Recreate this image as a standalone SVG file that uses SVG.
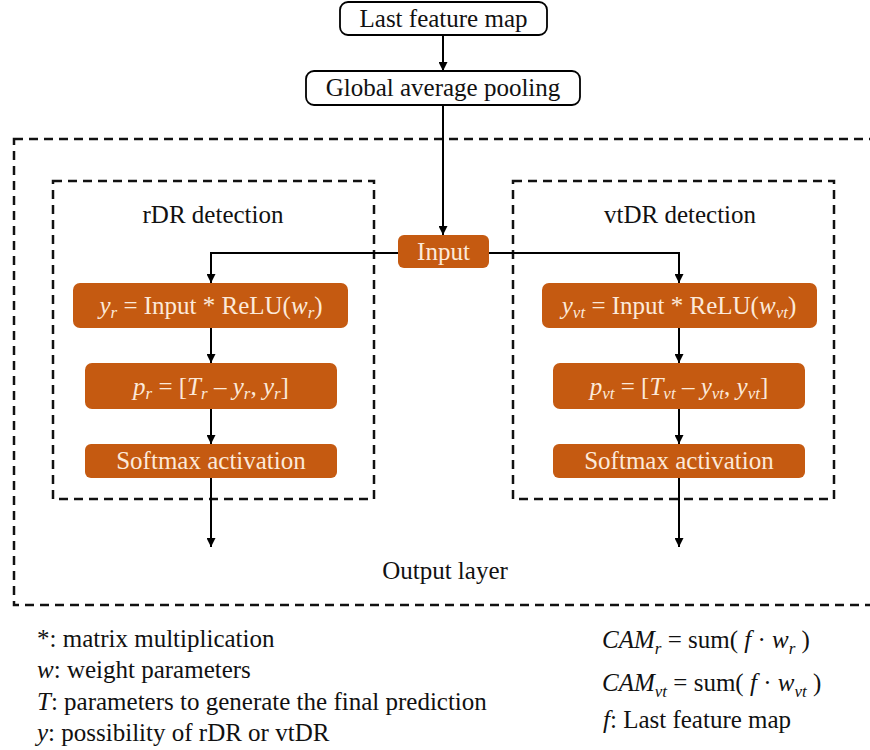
<svg xmlns="http://www.w3.org/2000/svg" width="870" height="750" viewBox="0 0 870 750">
  <defs>
    <marker id="arrow" viewBox="0 0 10 10" refX="10" refY="5" markerWidth="9" markerHeight="9" markerUnits="userSpaceOnUse" orient="auto">
      <path d="M0,0 L10,5 L0,10 z" fill="#000"/>
    </marker>
  </defs>

  <rect width="870" height="750" fill="#fff"/>

  <!-- dashed frames -->
  <g fill="none" stroke="#111" stroke-width="2.5" stroke-dasharray="9 6">
    <rect x="14" y="139" width="872" height="466"/>
    <rect x="53" y="181" width="321" height="318"/>
    <rect x="513" y="181" width="321" height="318"/>
  </g>
  <g id="output-layer">
    <text x="445" y="579" text-anchor="middle" font-family="Times New Roman" font-size="25" fill="#111">Output layer</text>
  </g>
  <g id="rdr-detection">
    <text x="213" y="223" text-anchor="middle" font-family="Times New Roman" font-size="25" fill="#111">rDR detection</text>
  </g>
  <g id="vtdr-detection">
    <text x="680" y="223" text-anchor="middle" font-family="Times New Roman" font-size="25" fill="#111">vtDR detection</text>
  </g>

  <!-- connectors -->
  <g id="connectors" fill="none" stroke="#000" stroke-width="2" marker-end="url(#arrow)">
    <path d="M443,35 V71"/>
    <path d="M443,105 V235"/>
    <path d="M398,253 H211 V283"/>
    <path d="M489,253 H679 V283"/>
    <path d="M211,328 V363"/>
    <path d="M211,409 V444"/>
    <path d="M211,478 V547"/>
    <path d="M679,328 V363"/>
    <path d="M679,409 V444"/>
    <path d="M679,478 V547"/>
  </g>

  <!-- top boxes -->
  <g id="last-feature-map">
    <rect x="340" y="2" width="207" height="33" rx="8" fill="#fff" stroke="#000" stroke-width="1.8"/>
    <text x="443.5" y="27" text-anchor="middle" font-family="Times New Roman" font-size="25" fill="#111">Last feature map</text>
  </g>
  <g id="global-average-pooling">
    <rect x="306" y="71" width="274" height="34" rx="8" fill="#fff" stroke="#000" stroke-width="1.8"/>
    <text x="443" y="96" text-anchor="middle" font-family="Times New Roman" font-size="25" fill="#111">Global average pooling</text>
  </g>

  <!-- orange processing blocks -->
  <g id="input">
    <rect x="398" y="235" width="91" height="33" rx="6" fill="#C55A11"/>
    <text x="443.5" y="260" text-anchor="middle" font-family="Times New Roman" font-size="25" fill="#FCE9D9">Input</text>
  </g>

  <!-- rDR branch -->
  <g id="yr">
    <rect x="73" y="283" width="275" height="45" rx="7" fill="#C55A11"/>
    <text x="211" y="314" text-anchor="middle" font-family="Times New Roman" font-size="25" fill="#FCE9D9"><tspan font-style="italic">y</tspan><tspan font-size="17" font-style="italic" dy="4">r</tspan><tspan dy="-4"> = Input * ReLU(</tspan><tspan font-style="italic">w</tspan><tspan font-size="17" font-style="italic" dy="4">r</tspan><tspan dy="-4">)</tspan></text>
  </g>
  <g id="pr">
    <rect x="85" y="363" width="252" height="46" rx="7" fill="#C55A11"/>
    <text x="211" y="395" text-anchor="middle" font-family="Times New Roman" font-size="25" fill="#FCE9D9"><tspan font-style="italic">p</tspan><tspan font-size="17" font-style="italic" dy="4">r</tspan><tspan dy="-4"> = [</tspan><tspan font-style="italic">T</tspan><tspan font-size="17" font-style="italic" dy="4">r</tspan><tspan dy="-4"> – </tspan><tspan font-style="italic">y</tspan><tspan font-size="17" font-style="italic" dy="4">r</tspan><tspan dy="-4">, </tspan><tspan font-style="italic">y</tspan><tspan font-size="17" font-style="italic" dy="4">r</tspan><tspan dy="-4">]</tspan></text>
  </g>
  <g id="softmax-r">
    <rect x="85" y="444" width="252" height="34" rx="6" fill="#C55A11"/>
    <text x="211" y="469" text-anchor="middle" font-family="Times New Roman" font-size="25" fill="#FCE9D9">Softmax activation</text>
  </g>

  <!-- vtDR branch -->
  <g id="yvt">
    <rect x="542" y="283" width="275" height="45" rx="7" fill="#C55A11"/>
    <text x="679" y="314" text-anchor="middle" font-family="Times New Roman" font-size="25" fill="#FCE9D9"><tspan font-style="italic">y</tspan><tspan font-size="17" font-style="italic" dy="4">vt</tspan><tspan dy="-4"> = Input * ReLU(</tspan><tspan font-style="italic">w</tspan><tspan font-size="17" font-style="italic" dy="4">vt</tspan><tspan dy="-4">)</tspan></text>
  </g>
  <g id="pvt">
    <rect x="553" y="363" width="252" height="46" rx="7" fill="#C55A11"/>
    <text x="679" y="395" text-anchor="middle" font-family="Times New Roman" font-size="25" fill="#FCE9D9"><tspan font-style="italic">p</tspan><tspan font-size="17" font-style="italic" dy="4">vt</tspan><tspan dy="-4"> = [</tspan><tspan font-style="italic">T</tspan><tspan font-size="17" font-style="italic" dy="4">vt</tspan><tspan dy="-4"> – </tspan><tspan font-style="italic">y</tspan><tspan font-size="17" font-style="italic" dy="4">vt</tspan><tspan dy="-4">, </tspan><tspan font-style="italic">y</tspan><tspan font-size="17" font-style="italic" dy="4">vt</tspan><tspan dy="-4">]</tspan></text>
  </g>
  <g id="softmax-vt">
    <rect x="553" y="444" width="252" height="34" rx="6" fill="#C55A11"/>
    <text x="679" y="469" text-anchor="middle" font-family="Times New Roman" font-size="25" fill="#FCE9D9">Softmax activation</text>
  </g>

  <!-- legend -->
  <g id="legend-left">
    <text x="37" y="647" font-family="Times New Roman" font-size="25" fill="#111">*: matrix multiplication</text>
    <text x="37" y="678" font-family="Times New Roman" font-size="25" fill="#111"><tspan font-style="italic">w</tspan>: weight parameters</text>
    <text x="37" y="710" font-family="Times New Roman" font-size="25" fill="#111"><tspan font-style="italic">T</tspan>: parameters to generate the final prediction</text>
    <text x="37" y="741" font-family="Times New Roman" font-size="25" fill="#111"><tspan font-style="italic">y</tspan>: possibility of rDR or vtDR</text>
  </g>
  <g id="legend-right">
    <text x="602" y="648" font-family="Times New Roman" font-size="25" fill="#111"><tspan font-style="italic">CAM</tspan><tspan font-size="17" font-style="italic" dy="6">r</tspan><tspan dy="-6"> = sum( </tspan><tspan font-style="italic">f</tspan><tspan> · </tspan><tspan font-style="italic">w</tspan><tspan font-size="17" font-style="italic" dy="6">r</tspan><tspan dy="-6"> )</tspan></text>
    <text x="602" y="691" font-family="Times New Roman" font-size="25" fill="#111"><tspan font-style="italic">CAM</tspan><tspan font-size="17" font-style="italic" dy="6">vt</tspan><tspan dy="-6"> = sum( </tspan><tspan font-style="italic">f</tspan><tspan> · </tspan><tspan font-style="italic">w</tspan><tspan font-size="17" font-style="italic" dy="6">vt</tspan><tspan dy="-6"> )</tspan></text>
    <text x="603" y="728" font-family="Times New Roman" font-size="25" fill="#111"><tspan font-style="italic">f</tspan>: Last feature map</text>
  </g>
</svg>
